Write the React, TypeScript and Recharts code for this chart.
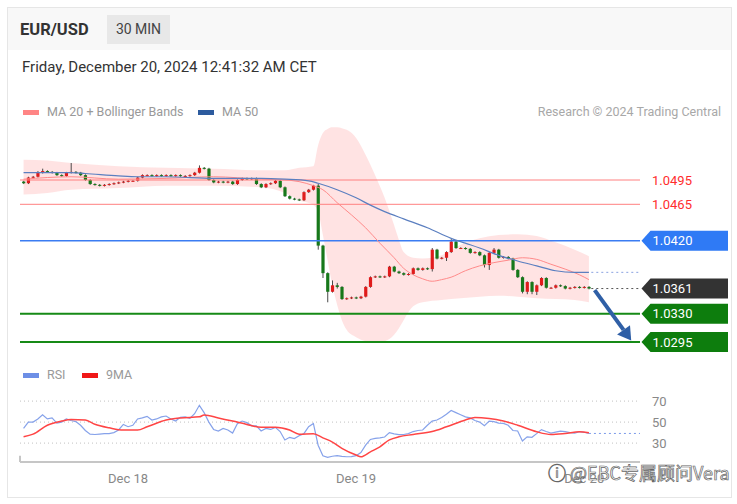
import React from 'react';
import { ComposedChart, Bar, Line, Area, XAxis, YAxis, ReferenceLine } from 'recharts';

const FONT = 'Roboto, "Noto Sans", Arial, sans-serif';
const PIP = 0.0001;

// EUR/USD 30 min candles, Dec 17 13:00 -> Dec 20 00:30 CET
const firstOpen = 1.0493;
const closes = [
  1.0491, 1.0498, 1.0499, 1.0504, 1.0506, 1.0505, 1.0504, 1.0501, 1.0500, 1.0504,
  1.0505, 1.0504, 1.0501, 1.0495, 1.0490, 1.0489, 1.0488, 1.0489, 1.0490, 1.0491,
  1.0492, 1.0493, 1.0494, 1.0494, 1.0498, 1.0501, 1.0501, 1.0500, 1.0501, 1.0500,
  1.0501, 1.0500, 1.0501, 1.0500, 1.0500, 1.0501, 1.0504, 1.0510, 1.0509, 1.0495,
  1.0492, 1.0493, 1.0492, 1.0493, 1.0490, 1.0495, 1.0497, 1.0496, 1.0497, 1.0490,
  1.0486, 1.0490, 1.0491, 1.0494, 1.0486, 1.0475, 1.0472, 1.0471, 1.0470, 1.0480,
  1.0483, 1.0488, 1.0414, 1.0380, 1.0357, 1.0365, 1.0363, 1.0348, 1.0349, 1.0350,
  1.0349, 1.0351, 1.0363, 1.0375, 1.0376, 1.0375, 1.0376, 1.0388, 1.0382, 1.0380,
  1.0378, 1.0379, 1.0386, 1.0384, 1.0386, 1.0385, 1.0409, 1.0398, 1.0399, 1.0406,
  1.0419, 1.0411, 1.0411, 1.0410, 1.0405, 1.0406, 1.0402, 1.0390, 1.0405, 1.0409,
  1.0399, 1.0400, 1.0398, 1.0384, 1.0375, 1.0357, 1.0369, 1.0357, 1.0365, 1.0374,
  1.0362, 1.0362, 1.0365, 1.0364, 1.0361, 1.0362, 1.0363, 1.0362, 1.0363, 1.0361,
];
// wick length above / below the body, in pips
const upWicks = [
  1, 1, 1, 2, 3, 1, 1, 1, 1, 1,
  11, 1, 1, 1, 1, 1, 1, 1, 1, 1,
  1, 1, 1, 1, 1, 1, 1, 1, 1, 1,
  1, 1, 1, 1, 1, 1, 1, 3, 1, 1,
  1, 1, 1, 1, 1, 1, 1, 1, 1, 1,
  1, 1, 1, 1, 1, 1, 1, 1, 1, 1,
  1, 1, 2, 1, 1, 6, 3, 1, 1, 1,
  1, 1, 1, 1, 1, 1, 1, 1, 1, 1,
  1, 1, 1, 1, 1, 1, 2, 1, 1, 1,
  3, 1, 1, 1, 1, 1, 1, 1, 1, 2,
  1, 1, 1, 1, 1, 1, 1, 1, 1, 1,
  1, 1, 1, 1, 1, 1, 1, 1, 1, 1,
];
const downWicks = [
  1, 1, 1, 1, 1, 1, 1, 1, 1, 1,
  1, 1, 1, 1, 1, 1, 1, 1, 1, 1,
  1, 1, 1, 1, 1, 1, 1, 1, 1, 1,
  1, 1, 1, 1, 1, 1, 1, 1, 1, 1,
  1, 1, 1, 1, 1, 1, 1, 1, 1, 1,
  1, 1, 1, 1, 1, 1, 1, 1, 1, 1,
  1, 1, 5, 6, 13, 1, 2, 1, 1, 1,
  1, 1, 1, 1, 1, 1, 1, 1, 1, 1,
  1, 1, 1, 1, 1, 1, 3, 1, 1, 4,
  1, 1, 1, 1, 1, 1, 1, 3, 6, 1,
  1, 1, 1, 1, 1, 2, 3, 3, 4, 1,
  1, 1, 1, 1, 1, 1, 1, 1, 1, 1,
];

// Bollinger bands (MA 20)
const bbIdx = [0, 5, 10, 20, 30, 40, 50, 55, 58, 61, 62, 63, 64, 65, 66, 67, 68, 70, 72, 74, 76, 78, 79, 80, 82, 84, 88, 92, 96, 100, 104, 108, 112, 116, 119];
const bbUpper = [1.0520, 1.0519, 1.0516, 1.0512, 1.0510, 1.0509, 1.0507, 1.0507, 1.0510, 1.0512, 1.0538, 1.0553, 1.0558, 1.0560, 1.0560, 1.0559, 1.0557, 1.0547, 1.0526, 1.0501, 1.0473, 1.0439, 1.0421, 1.0406, 1.0399, 1.0398, 1.0402, 1.0415, 1.0423, 1.0427, 1.0428, 1.0426, 1.0418, 1.0409, 1.0401];
const bbLower = [1.0477, 1.0479, 1.0483, 1.0485, 1.0488, 1.0488, 1.0486, 1.0479, 1.0470, 1.0464, 1.0456, 1.0427, 1.0396, 1.0365, 1.0341, 1.0322, 1.0310, 1.0301, 1.0296, 1.0294, 1.0296, 1.0304, 1.0312, 1.0322, 1.0339, 1.0344, 1.0347, 1.0349, 1.0351, 1.0352, 1.0351, 1.0349, 1.0348, 1.0347, 1.0344];

const ma20Idx = [0, 10, 20, 30, 40, 50, 55, 58, 61, 63, 66, 69, 72, 75, 78, 80, 82, 84, 86, 88, 90, 93, 96, 99, 102, 105, 108, 111, 114, 117, 119];
const ma20Vals = [1.0496, 1.0499, 1.0496, 1.0497, 1.0499, 1.0496, 1.0495, 1.0493, 1.0488, 1.0483, 1.0467, 1.0452, 1.0436, 1.0417, 1.0399, 1.0386, 1.0378, 1.0373, 1.0370, 1.0372, 1.0375, 1.0383, 1.0389, 1.0393, 1.0396, 1.0399, 1.0397, 1.0391, 1.0385, 1.0378, 1.0372];

const ma50Idx = [0, 10, 13, 20, 24, 30, 40, 50, 55, 60, 62, 66, 70, 73, 76, 80, 85, 90, 93, 96, 100, 104, 108, 112, 116, 119];
const ma50Vals = [1.0504, 1.0504, 1.0503, 1.0500, 1.0499, 1.0499, 1.0497, 1.0497, 1.0496, 1.0494, 1.0491, 1.0483, 1.0473, 1.0464, 1.0456, 1.0447, 1.0436, 1.0423, 1.0417, 1.0411, 1.0402, 1.0395, 1.0389, 1.0383, 1.0381, 1.0381];

const rsiVals = [
  44, 50, 50, 53, 57, 53, 54, 49, 50, 53,
  51.5, 50.5, 47, 42, 38.5, 38.2, 38.6, 39, 39, 40,
  42.5, 47.8, 45.6, 47, 53, 54, 55.5, 52, 53, 55,
  55.8, 53, 51, 54.5, 55, 53.5, 58, 66, 59, 50,
  43, 41.5, 44, 42.5, 39.5, 48.5, 51, 49.5, 46.5, 46.5,
  41.5, 44, 43, 45, 41, 33, 35.5, 34.3, 37, 39,
  45.6, 48.7, 28, 18, 16.5, 17.5, 18, 17.3, 17, 17.2,
  18, 21, 28, 33.5, 34.5, 35, 35.8, 40, 38.8, 38,
  38.2, 39, 41, 42, 42.5, 47, 51, 52, 54.3, 57.5,
  61, 59, 57, 55, 54, 51.5, 50, 46.5, 51, 50.5,
  49, 48.7, 47, 42, 41.5, 32, 36, 35.5, 39, 42.8,
  41, 39.5, 40.5, 41.4, 41, 40, 39.5, 40.8, 40.3, 39.2,
];
const rsiMaIdx = [0, 2, 5, 8, 10, 13, 15, 18, 21, 24, 26, 30, 33, 37, 38, 41, 44, 47, 50, 53, 56, 58, 61, 63, 65, 67, 70, 71, 73, 75, 77, 79, 82, 86, 89, 93, 95, 98, 101, 104, 108, 111, 114, 117, 119];
const rsiMaVals = [36, 38.5, 47, 51, 52.5, 52, 48, 44.6, 42.4, 42.4, 45.5, 52, 54, 55, 56.7, 54, 51, 47.8, 45, 45, 42.4, 38.5, 39, 35, 31, 25, 18.6, 17, 21.7, 26.5, 33, 36, 38.2, 41, 45.5, 52, 54.5, 53.5, 51, 47, 40.8, 38.2, 39.2, 40.8, 39.8];

const resistances = [1.0495, 1.0465];
const pivot = 1.0420;
const lastPrice = 1.0361;
const supports = [1.0330, 1.0295];
const rsiLevels = [70, 50, 30];
const dayTicks = [22, 70, 118];
const dayLabels = ['Dec 18', 'Dec 19', 'Dec 20'];
const arrowFrom = { i: 120.2, p: 1.0359 };
const arrowTo = { i: 127.9, p: 1.0297 };

const X_DOMAIN = [-0.75, 129.75];

const candles = closes.map((c, i) => {
  const o = i === 0 ? firstOpen : closes[i - 1];
  const h = Math.max(o, c) + upWicks[i] * PIP;
  const l = Math.min(o, c) - downWicks[i] * PIP;
  return { i, o, c, h, l, range: [l, h] };
});
const bands = bbIdx.map((i, k) => ({ i, band: [bbLower[k], bbUpper[k]] }));
const ma20 = ma20Idx.map((i, k) => ({ i, v: ma20Vals[k] }));
const ma50 = ma50Idx.map((i, k) => ({ i, v: ma50Vals[k] }));
const rsi = rsiVals.map((v, i) => ({ i, v }));
const rsiMa = rsiMaIdx.map((i, k) => ({ i, v: rsiMaVals[k] }));
const lastIdx = closes.length - 1;

const Candle = (props: any) => {
  const { x, y, width, height, payload } = props;
  const { o, c, h, l } = payload;
  const cx = x + width / 2;
  const k = height / (h - l);
  const top = y + (h - Math.max(o, c)) * k;
  const bot = y + (h - Math.min(o, c)) * k;
  const color = c >= o ? '#e01b1b' : '#17781a';
  return (
    <g>
      <line x1={cx} x2={cx} y1={y} y2={y + height} stroke="#4a4a4a" strokeWidth={1} />
      <rect x={cx - 1.6} y={top} width={3.2} height={Math.max(bot - top, 1)} fill={color} />
    </g>
  );
};

const redText = (text: string) => (props: any) => {
  const { viewBox } = props;
  return (
    <text x={652} y={viewBox.y + 4.5} fill="#ff2d2d" fontSize={13} fontFamily={FONT}>
      {text}
    </text>
  );
};

const tag = (text: string, fill: string) => (props: any) => {
  const { viewBox } = props;
  const y = viewBox.y;
  const x0 = 641.5;
  const pts = `${x0},${y} ${x0 + 9},${y - 10} ${x0 + 86.5},${y - 10} ${x0 + 86.5},${y + 10} ${x0 + 9},${y + 10}`;
  return (
    <g>
      <polygon points={pts} fill={fill} />
      <text x={x0 + 11} y={y + 4.5} fill="#fff" fontSize={13} fontFamily={FONT}>
        {text}
      </text>
    </g>
  );
};

const rsiText = (text: string) => (props: any) => {
  const { viewBox } = props;
  return (
    <text x={652} y={viewBox.y + 4.5} fill="#888" fontSize={13} fontFamily={FONT}>
      {text}
    </text>
  );
};

const Arrow = (props: any) => {
  const { x1, y1, x2, y2 } = props;
  const a = Math.atan2(y2 - y1, x2 - x1);
  const len = 13;
  const w = 8;
  const bx = x2 - len * Math.cos(a);
  const by = y2 - len * Math.sin(a);
  const px = -Math.sin(a) * w;
  const py = Math.cos(a) * w;
  return (
    <g>
      <line x1={x1} y1={y1} x2={bx} y2={by} stroke="#2f5fa6" strokeWidth={4} />
      <polygon points={`${x2},${y2} ${bx + px},${by + py} ${bx - px},${by - py}`} fill="#2f5fa6" />
    </g>
  );
};

const swatch = (color: string, left: number, top: number) => (
  <div style={{ position: 'absolute', left, top, width: 16, height: 5, background: color }} />
);

const legendText = (text: string, left: number, top: number) => (
  <div style={{ position: 'absolute', left, top, fontSize: 12.5, lineHeight: '14px', color: '#999', whiteSpace: 'nowrap' }}>
    {text}
  </div>
);

export default function App() {
  return (
    <div style={{ fontFamily: FONT }}>
      <div style={{ position: 'absolute', left: 7, top: 7, width: 723, height: 489, border: '1px solid #e6e6e6', background: '#fff' }} />
      <div style={{ position: 'absolute', left: 8, top: 8, width: 723, height: 42, background: '#f8f8f8' }} />
      <div style={{ position: 'absolute', left: 20, top: 20, fontSize: 16.5, fontWeight: 700, color: '#333', lineHeight: '20px' }}>
        EUR/USD
      </div>
      <div style={{ position: 'absolute', left: 107, top: 15, width: 63, height: 29, background: '#e8e8e8', color: '#444', fontSize: 14, lineHeight: '29px', textAlign: 'center' }}>
        30 MIN
      </div>
      <div style={{ position: 'absolute', left: 22, top: 58, fontSize: 15, color: '#333', lineHeight: '18px', whiteSpace: 'nowrap' }}>
        Friday, December 20, 2024 12:41:32 AM CET
      </div>

      {swatch('#ff8585', 23, 110)}
      {legendText('MA 20 + Bollinger Bands', 47, 105)}
      {swatch('#2d5b9e', 198, 110)}
      {legendText('MA 50', 222, 105)}
      <div style={{ position: 'absolute', right: 16, top: 105, fontSize: 12.5, lineHeight: '14px', color: '#a8a8a8', whiteSpace: 'nowrap' }}>
        Research © 2024 Trading Central
      </div>

      <div style={{ position: 'absolute', left: 0, top: 110 }}>
        <ComposedChart
          width={737}
          height={260}
          data={candles}
          margin={{ top: 13.3, right: 97, bottom: 15.85, left: 20 }}
        >
          <XAxis dataKey="i" type="number" domain={X_DOMAIN} hide allowDataOverflow />
          <YAxis type="number" domain={[1.028, 1.0565]} hide allowDataOverflow />
          <Area
            data={bands}
            dataKey="band"
            type="monotone"
            stroke="none"
            fill="#ffcccc"
            fillOpacity={0.55}
            isAnimationActive={false}
          />
          {resistances.map((r) => (
            <ReferenceLine key={r} y={r} stroke="#ff8080" strokeWidth={1} label={redText(r.toFixed(4))} />
          ))}
          <ReferenceLine y={pivot} stroke="#3b7cf2" strokeWidth={1.5} label={tag(pivot.toFixed(4), '#2f7af5')} />
          {supports.map((s) => (
            <ReferenceLine key={s} y={s} stroke="#168a16" strokeWidth={2} label={tag(s.toFixed(4), '#0d7d0d')} />
          ))}
          <ReferenceLine y={lastPrice} stroke="none" label={tag(lastPrice.toFixed(4), '#333333')} />
          <ReferenceLine
            segment={[{ x: lastIdx + 0.5, y: lastPrice }, { x: X_DOMAIN[1], y: lastPrice }]}
            stroke="#555"
            strokeDasharray="2 3"
          />
          <ReferenceLine
            segment={[{ x: lastIdx + 0.5, y: ma50Vals[ma50Vals.length - 1] }, { x: X_DOMAIN[1], y: ma50Vals[ma50Vals.length - 1] }]}
            stroke="#8aa2e0"
            strokeDasharray="2 3"
          />
          <Line data={ma20} dataKey="v" type="monotone" stroke="#ff8a8a" strokeWidth={1} dot={false} isAnimationActive={false} />
          <Line data={ma50} dataKey="v" type="monotone" stroke="#5b7fc0" strokeWidth={1.2} dot={false} isAnimationActive={false} />
          <Bar dataKey="range" barSize={3} shape={Candle} isAnimationActive={false} />
          <ReferenceLine
            segment={[{ x: arrowFrom.i, y: arrowFrom.p }, { x: arrowTo.i, y: arrowTo.p }]}
            shape={Arrow}
          />
        </ComposedChart>
      </div>

      {swatch('#6d8fe6', 23, 373)}
      {legendText('RSI', 47, 368)}
      {swatch('#f01818', 82, 373)}
      {legendText('9MA', 106, 368)}

      <div style={{ position: 'absolute', left: 0, top: 380 }}>
        <ComposedChart width={737} height={110} data={rsi} margin={{ top: 10.6, right: 97, bottom: 0, left: 20 }}>
          <XAxis
            dataKey="i"
            type="number"
            domain={X_DOMAIN}
            allowDataOverflow
            ticks={dayTicks}
            tickFormatter={(v: number) => dayLabels[dayTicks.indexOf(v)]}
            height={28}
            axisLine={{ stroke: '#c6c6c6', strokeWidth: 2 }}
            tickLine={false}
            tickMargin={6}
            tick={{ fill: '#888', fontSize: 13, fontFamily: FONT }}
          />
          <YAxis type="number" domain={[12, 80]} hide allowDataOverflow />
          {rsiLevels.map((v) => (
            <ReferenceLine key={v} y={v} stroke="#c2c2c2" strokeDasharray="1 3" label={rsiText(String(v))} />
          ))}
          <ReferenceLine segment={[{ x: X_DOMAIN[0], y: 12 }, { x: X_DOMAIN[0], y: 18 }]} stroke="#c6c6c6" strokeWidth={2} />
          <ReferenceLine
            segment={[{ x: lastIdx, y: rsiVals[lastIdx] }, { x: X_DOMAIN[1], y: rsiVals[lastIdx] }]}
            stroke="#7b9ae8"
            strokeDasharray="2 3"
          />
          <Line dataKey="v" type="linear" stroke="#86a2ea" strokeWidth={1.2} dot={false} isAnimationActive={false} />
          <Line data={rsiMa} dataKey="v" type="monotone" stroke="#ff4545" strokeWidth={1.5} dot={false} isAnimationActive={false} />
        </ComposedChart>
      </div>

      <div
        style={{
          position: 'absolute',
          left: 548,
          top: 461,
          fontSize: 18,
          lineHeight: '22px',
          color: '#fff',
          WebkitTextStroke: '0.7px #666',
          fontFamily: '"Noto Sans CJK SC", "Noto Sans", sans-serif',
          whiteSpace: 'nowrap',
        }}
      >
        ⓘ @EBC专属顾问Vera
      </div>
    </div>
  );
}
